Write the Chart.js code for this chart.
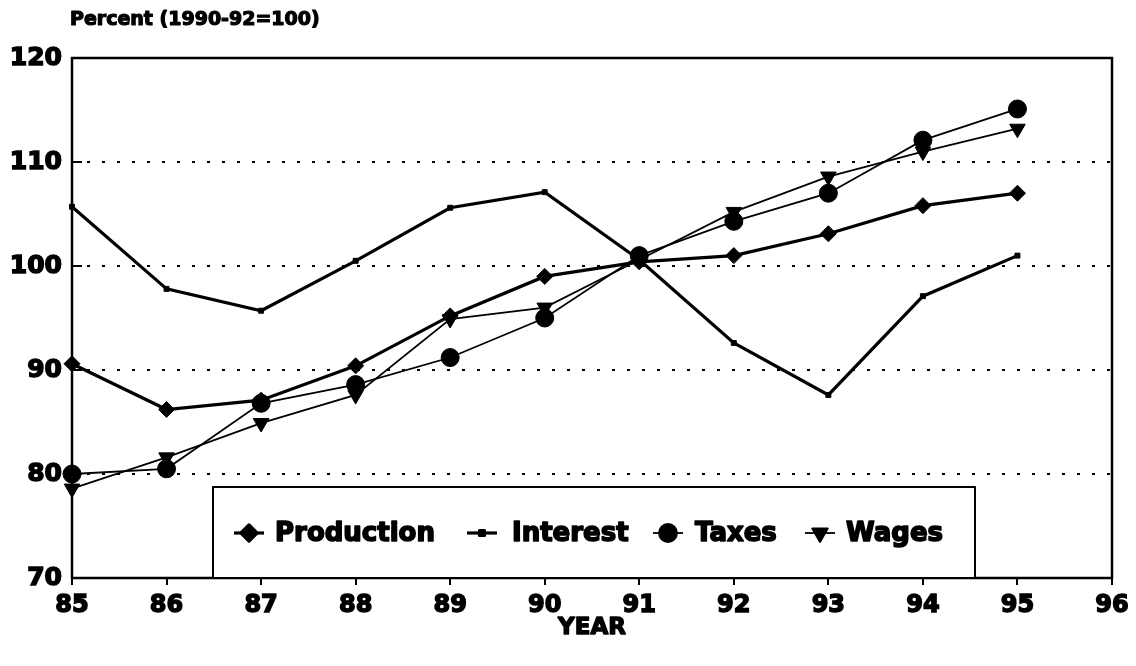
<!DOCTYPE html>
<html><head><meta charset="utf-8">
<script src="https://cdn.jsdelivr.net/npm/chart.js@4.4.1/dist/chart.umd.min.js"></script>
<style>html,body{margin:0;padding:0;background:#fff}#wrap{width:1136px;height:666px;position:relative}</style>
</head><body><div id="wrap"><canvas id="c" width="1136" height="666"></canvas></div>
<script>
// ---- data ----
const years = [85, 86, 87, 88, 89, 90, 91, 92, 93, 94, 95];
const production = [90.6, 86.2, 87.1, 90.4, 95.2, 99.0, 100.4, 101.0, 103.1, 105.8, 107.0];
const interest   = [105.7, 97.8, 95.7, 100.5, 105.6, 107.1, 100.6, 92.6, 87.6, 97.1, 101.0];
const taxes      = [80.0, 80.5, 86.8, 88.6, 91.2, 95.0, 101.0, 104.3, 107.0, 112.1, 115.1];
const wages      = [78.6, 81.6, 84.9, 87.6, 94.9, 96.0, 100.6, 105.2, 108.6, 111.0, 113.2];
const xTickLabels = ['85','86','87','88','89','90','91','92','93','94','95','96'];
const yTickLabels = ['70','80','90','100','110','120'];
const seriesNames = ['Production', 'Interest', 'Taxes', 'Wages'];
const yAxisLabel = 'Percent (1990-92=100)';
const xAxisLabel = 'YEAR';

const FONT = '"DejaVu Sans", "Liberation Sans", sans-serif';
const pts = arr => years.map((y, i) => ({x: y, y: arr[i]}));

const datasets = [
  {label: seriesNames[0], data: pts(production), borderColor:'#000', backgroundColor:'#000', borderWidth:3.2,
   pointStyle:'rectRot', pointRadius:8, pointBorderWidth:1, clip: false},
  {label: seriesNames[1], data: pts(interest), borderColor:'#000', backgroundColor:'#000', borderWidth:3.2,
   pointStyle:'rect', pointRadius:3.5, pointBorderWidth:1, clip: false},
  {label: seriesNames[2], data: pts(taxes), borderColor:'#000', backgroundColor:'#000', borderWidth:1.8,
   pointStyle:'circle', pointRadius:9, pointBorderWidth:1, clip: false},
  {label: seriesNames[3], data: pts(wages), borderColor:'#000', backgroundColor:'#000', borderWidth:1.8,
   pointStyle:'triangle', pointRotation:180, pointRadius:9, pointBorderWidth:1, clip: false}
];

function boldText(ctx, text, x, y, w) {
  ctx.lineWidth = w;
  ctx.lineJoin = 'round';
  ctx.strokeText(text, x, y);
  ctx.fillText(text, x, y);
}

const frame = {
  id: 'frame',
  beforeDatasetsDraw(chart) {
    const {ctx, chartArea: a, scales} = chart;
    ctx.save();
    ctx.strokeStyle = '#000';
    ctx.lineWidth = 2.5;
    ctx.strokeRect(a.left, a.top, a.right - a.left, a.bottom - a.top);
    ctx.lineWidth = 2;
    [80, 90, 100, 110].forEach(v => {
      const py = scales.y.getPixelForValue(v);
      ctx.beginPath(); ctx.moveTo(a.left, py); ctx.lineTo(a.left + 10, py); ctx.stroke();
    });
    ctx.restore();
  },
  afterDraw(chart) {
    const {ctx} = chart;
    ctx.save();
    ctx.fillStyle = '#000';
    ctx.strokeStyle = '#000';
    ctx.font = 'bold 19px ' + FONT;
    ctx.textBaseline = 'middle';
    ctx.textAlign = 'left';
    boldText(ctx, yAxisLabel, 70, 20, 1.2);
    const bx = 213, by = 487, bw = 762, bh = chart.chartArea.bottom - by;
    ctx.fillStyle = '#fff';
    ctx.fillRect(bx, by, bw, bh);
    ctx.strokeStyle = '#000';
    ctx.lineWidth = 2;
    ctx.strokeRect(bx, by, bw, bh);
    ctx.font = 'bold 26px ' + FONT;
    ctx.textBaseline = 'middle';
    const cy = 533;
    const markerX = [249, 482, 668, 820];
    const textX = [275, 512, 695, 846];
    chart.data.datasets.forEach((ds, i) => {
      const mx = markerX[i];
      ctx.strokeStyle = '#000';
      ctx.lineWidth = ds.borderWidth;
      ctx.beginPath(); ctx.moveTo(mx - 15, cy); ctx.lineTo(mx + 15, cy); ctx.stroke();
      ctx.fillStyle = '#000';
      Chart.helpers.drawPoint(ctx, {pointStyle: ds.pointStyle, radius: ds.pointRadius,
        rotation: ds.pointRotation || 0, borderWidth: 1}, mx, cy);
      ctx.fillStyle = '#000';
      boldText(ctx, ds.label, textX[i], cy + 1, 1.6);
    });
    ctx.font = 'bold 23px ' + FONT;
    ctx.textAlign = 'center';
    boldText(ctx, xAxisLabel, (chart.chartArea.left + chart.chartArea.right) / 2, 628, 1.4);
    ctx.restore();
  }
};

new Chart(document.getElementById('c'), {
  type: 'line',
  data: {datasets},
  options: {
    responsive: false, animation: false, devicePixelRatio: 1,
    layout: {padding: {top: 58, right: 24, left: 0, bottom: 0}},
    plugins: {legend: {display: false}, tooltip: {enabled: false}},
    elements: {line: {tension: 0}},
    scales: {
      x: {
        type: 'linear', min: 85, max: 96,
        afterFit: s => { s.height = 88; },
        afterBuildTicks: s => { s.ticks = xTickLabels.map(v => ({value: +v})); },
        ticks: {color:'#000', font:{family: FONT, size: 24, weight:'bold'}, padding: 6,
          textStrokeColor:'#000', textStrokeWidth: 1.5,
          callback: v => xTickLabels[xTickLabels.indexOf(String(v))] ?? ''},
        grid: {drawOnChartArea: false, drawTicks: true, tickLength: 7, color:'#000', lineWidth: 2},
        border: {display: false}
      },
      y: {
        type: 'linear', min: 70, max: 120,
        afterFit: s => { s.width = 72; },
        afterBuildTicks: s => { s.ticks = yTickLabels.map(v => ({value: +v})); },
        ticks: {color:'#000', font:{family: FONT, size: 25, weight:'bold'}, padding: 10,
          textStrokeColor:'#000', textStrokeWidth: 1.5,
          callback: v => yTickLabels[yTickLabels.indexOf(String(v))] ?? ''},
        grid: {drawTicks: false, lineWidth: 2,
          color: c => (c.tick && (c.tick.value === 70 || c.tick.value === 120)) ? 'rgba(0,0,0,0)' : '#000'},
        border: {display: false, dash: [3, 12]}
      }
    }
  },
  plugins: [frame]
});
</script>
</body></html>
